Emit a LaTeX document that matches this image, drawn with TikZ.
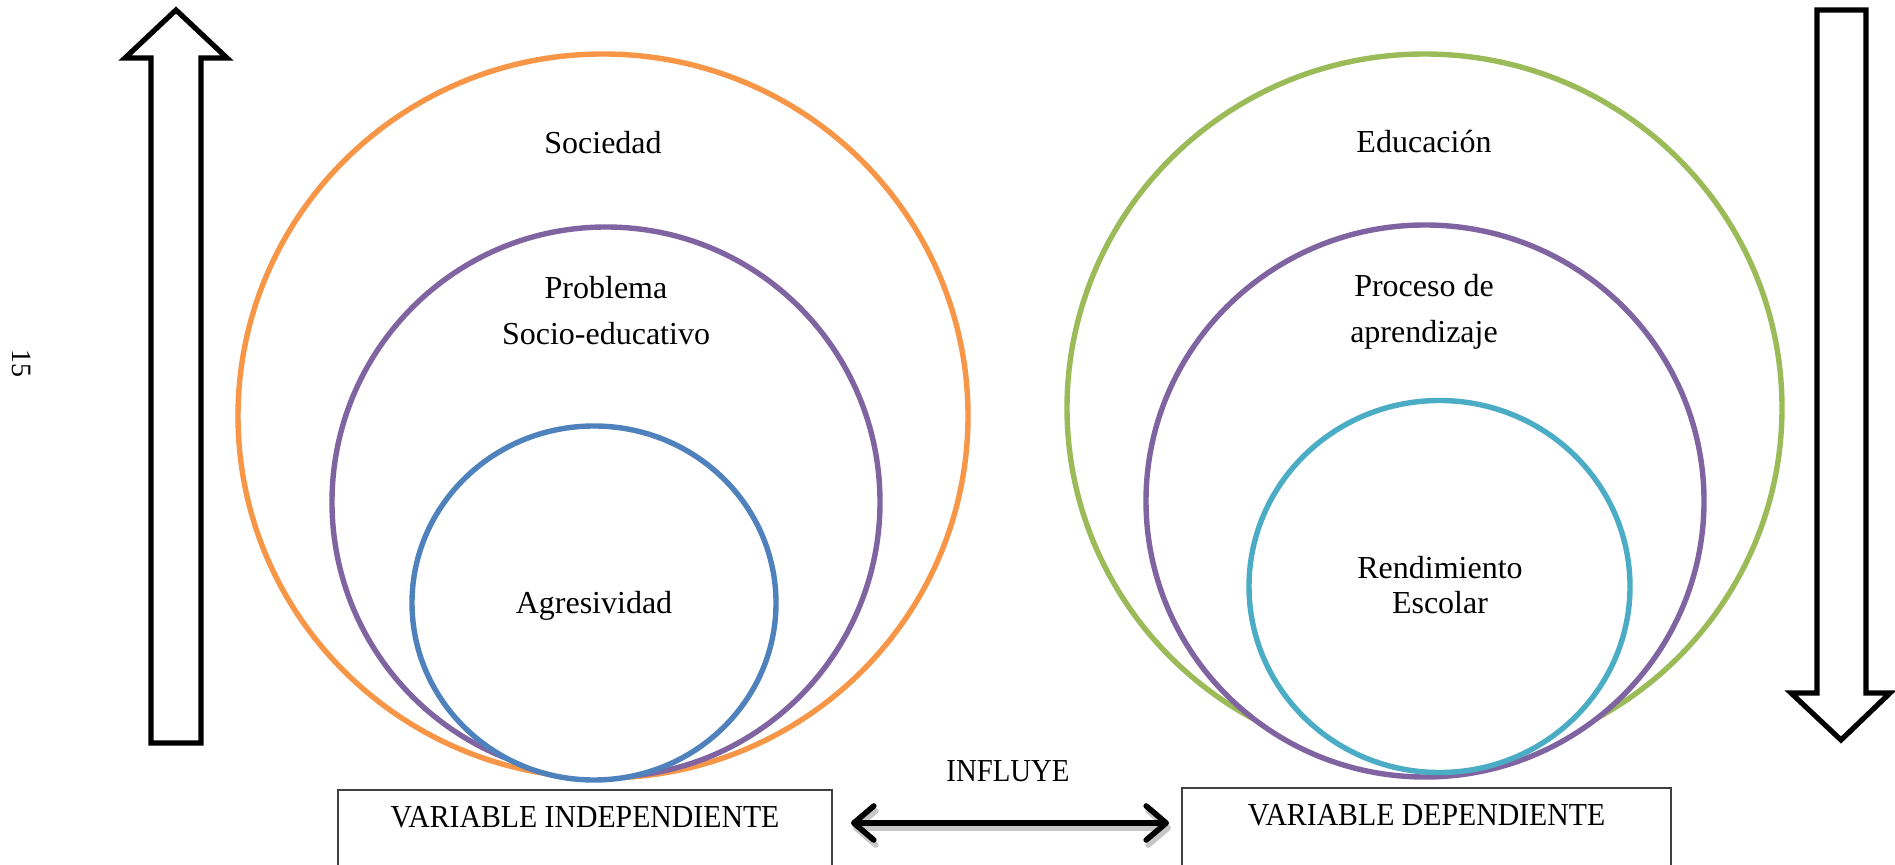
\documentclass[tikz,border=0pt]{standalone}
\usepackage{fontspec}
\setmainfont{Liberation Serif}
\newfontfamily\condfont[FakeStretch=0.93]{Liberation Serif}
\newfontfamily\inffont[FakeStretch=0.9]{Liberation Serif}
\usetikzlibrary{arrows.meta}
\definecolor{corange}{HTML}{F79646}
\definecolor{cpurple}{HTML}{8064A2}
\definecolor{cblue}{HTML}{4F81BD}
\definecolor{cgreen}{HTML}{9BBB59}
\definecolor{caqua}{HTML}{4BACC6}
\tikzset{
  ring/.style={line width=2.7pt, fill=white},
  lbl/.style={font=\fontsize{16}{19}\selectfont, anchor=base, inner sep=0pt},
  blockarrow/.style={draw=black, line width=2.6pt, fill=white, line join=miter, miter limit=10},
  varbox/.style={draw=black!75, line width=1pt, inner sep=0pt, anchor=base,
     text height=18.5pt, text depth=26pt, font=\condfont\fontsize{16}{19}\selectfont},
  dblarrow/.style={line width=2.8pt, {Straight Barb[length=10pt,width=17pt,line cap=round,line join=round]}-{Straight Barb[length=10pt,width=17pt,line cap=round,line join=round]}}
}
\begin{document}
\begin{tikzpicture}[x=0.5pt,y=-0.5pt]
\useasboundingbox (0,0) rectangle (1895,865);

% page number
\node[rotate=-90, font=\fontsize{14}{16}\selectfont, inner sep=0pt] (pg) at (22,364) {15};

% block arrows
\draw[blockarrow] (151,743) -- (151,58) -- (125,58) -- (176,10) -- (227,58) -- (201,58) -- (201,743) -- cycle;
\draw[blockarrow] (1817,10) -- (1817,693) -- (1791,693) -- (1841,740) -- (1890,693) -- (1866,693) -- (1866,10) -- cycle;

% left nested circles
\draw[ring, draw=corange] (603,416) ellipse [x radius=365, y radius=362];
\draw[ring, draw=cpurple] (606,502) ellipse [x radius=274, y radius=275];
\draw[ring, draw=cblue] (594,603) ellipse [x radius=182, y radius=177];

% right nested circles
\draw[ring, draw=cgreen] (1424.5,408) ellipse [x radius=357.5, y radius=354];
\draw[ring, draw=cpurple] (1425,501) ellipse [x radius=279, y radius=276];
\draw[ring, draw=caqua] (1439.5,586.5) ellipse [x radius=190.5, y radius=186];

% labels
\node[lbl] (soc) at (603,154) {Sociedad};
\node[lbl] (probA) at (606,299) {Problema};
\node[lbl] (probB) at (606,345) {Socio-educativo};
\node[lbl] (agr) at (594,613) {Agresividad};
\node[lbl] (edu) at (1424,153) {Educación};
\node[lbl] (procA) at (1424,297) {Proceso de};
\node[lbl] (procB) at (1424,343) {aprendizaje};
\node[lbl] (rendA) at (1440,579) {Rendimiento};
\node[lbl] (rendB) at (1440,613) {Escolar};

% variable boxes
\node[varbox, minimum width=247pt] (vi) at (585,827) {VARIABLE INDEPENDIENTE};
\node[varbox, minimum width=244.5pt] (vd) at (1426.5,825) {VARIABLE DEPENDIENTE};

\node[font=\inffont\fontsize{16}{19}\selectfont, anchor=base, inner sep=0pt] (inf) at (1008,781) {INFLUYE};

% double arrow with shadow
\coordinate (aS) at ([yshift=5.75pt]vi.east);
\draw[dblarrow, black!22, shorten <=9pt, shorten >=6pt, transform canvas={xshift=1pt,yshift=-2.5pt}] (aS) -- (aS -| vd.west);
\draw[dblarrow, shorten <=9pt, shorten >=6pt] (aS) -- (aS -| vd.west);
\end{tikzpicture}
\end{document}
